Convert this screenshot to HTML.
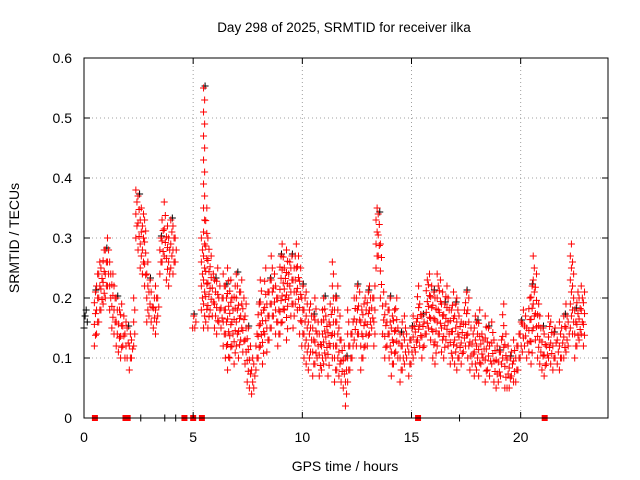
<!DOCTYPE html>
<html><head><meta charset="utf-8"><style>
html,body{margin:0;padding:0;background:#fff;}
svg{display:block;font-family:"Liberation Sans",sans-serif;}
</style></head><body>
<svg id="chart" width="640" height="480" viewBox="0 0 640 480" xmlns="http://www.w3.org/2000/svg">
<text x="344" y="32" font-size="13.5" text-anchor="middle">Day 298 of 2025, SRMTID for receiver ilka</text>
<text x="345" y="471" font-size="14" text-anchor="middle">GPS time / hours</text>
<text x="19" y="238" font-size="14" text-anchor="middle" transform="rotate(-90 19 238)">SRMTID / TECUs</text>
<g id="grid"></g>
<g id="pts-black"></g>
<g id="pts-red"></g>
<g id="axes"></g>
</svg>
<script>
const xTicks=[0,5,10,15,20];
const yTicks=[0,0.1,0.2,0.3,0.4,0.5,0.6];
const yTickLabels=["0","0.1","0.2","0.3","0.4","0.5","0.6"];
const tStart=0.5, tStep=0.1;
const hiVals=[.21,.24,.26,.25,.28,
.28,.30,.26,.24,.22,.20,.18,.19,.17,.16,
.15,.14,.13,.20,.38,.37,.35,.34,.33,.26,
.23,.21,.20,.22,.20,.30,.33,.36,.32,.30,
.33,.32,.30,null,null,null,null,null,null,null,
.17,.16,null,null,.30,.55,.35,.30,.27,.24,
.23,.25,.22,.20,.24,.22,.25,.23,.20,.22,
.24,.21,.23,.20,.19,.15,.12,.10,.09,.14,
.19,.23,.18,.25,.21,.23,.27,.24,.22,.20,
.27,.29,.25,.28,.26,.27,.25,.29,.27,.25,
.22,.20,.21,.18,.19,.17,.20,.16,.14,.18,
.20,.17,.16,.19,.26,.20,.22,.17,.13,.12,
.10,.18,.14,.16,.20,.22,.21,.18,.19,.20,
.21,.22,.20,.22,.35,.34,.29,.21,.19,.18,
.20,.17,.18,.20,.15,.14,.16,.17,.14,.13,
.15,.17,.16,.22,.19,.17,.16,.23,.24,.22,
.21,.20,.24,.23,.21,.19,.22,.20,.18,.21,
.19,.20,.17,.16,.18,.21,.20,.15,.14,.17,
.16,.18,.14,.13,.17,.15,.12,.16,.13,.12,
.11,.13,.19,.14,.12,.10,.11,.13,.12,.14,
.16,.18,.17,.15,.20,.22,.27,.24,.19,.17,
.15,.14,.12,.17,.16,.14,.15,.13,.16,.15,
.17,.19,.16,.29,.26,.18,.21,.20,.22,.21];
const loVals=[.12,.14,.16,.18,.19,
.20,.22,.18,.15,.14,.12,.11,.10,.12,.10,
.10,.08,.10,.12,.30,.28,.25,.24,.22,.16,
.17,.16,.15,.14,.17,.24,.26,.27,.23,.22,
.25,.24,.26,null,null,null,null,null,null,null,
.15,.15,null,null,.18,.15,.16,.15,.18,.17,
.15,.14,.16,.15,.12,.10,.08,.10,.12,.09,
.12,.10,.13,.11,.09,.06,.05,.04,.05,.08,
.10,.12,.09,.14,.11,.13,.15,.17,.14,.12,
.14,.16,.18,.13,.20,.17,.15,.19,.18,.14,
.12,.10,.09,.08,.11,.07,.09,.10,.07,.08,
.09,.10,.07,.12,.10,.06,.08,.07,.06,.05,
.02,.06,.08,.10,.13,.12,.14,.08,.10,.12,
.12,.14,.15,.12,.25,.27,.20,.14,.10,.12,
.10,.07,.09,.11,.10,.06,.08,.09,.10,.07,
.09,.10,.11,.13,.12,.10,.12,.14,.15,.13,
.10,.09,.12,.14,.11,.10,.13,.12,.09,.10,
.09,.08,.10,.09,.11,.12,.10,.08,.09,.07,
.08,.07,.09,.10,.06,.08,.07,.09,.06,.05,
.06,.07,.10,.05,.05,.05,.07,.06,.06,.08,
.10,.11,.12,.10,.11,.09,.15,.13,.10,.09,
.08,.07,.09,.10,.09,.08,.10,.09,.08,.10,
.10,.11,.12,.15,.14,.10,.12,.13,.14,.12];
const blackT=[0.0,0.05,0.1,0.15];
const blackV=[0.15,0.17,0.18,0.16];
const zeroRedT=[0.5,1.9,2.0,4.6,5.0,5.4,15.3,21.1];
const zeroBlackT=[2.6,3.7,4.2,17.2];

const L=84,R=608,T=58,B=418;
const xS=h=>L+h*(R-L)/24;
const yS=v=>B-v*(B-T)/0.6;
const NS="http://www.w3.org/2000/svg";
function mk(tag,attrs,parent){const e=document.createElementNS(NS,tag);for(const k in attrs)e.setAttribute(k,attrs[k]);parent.appendChild(e);return e;}
const grid=document.getElementById('grid'),axes=document.getElementById('axes');
const red=document.getElementById('pts-red'),blk=document.getElementById('pts-black');
yTicks.forEach((v,i)=>{
 const y=yS(v);
 if(v>0&&v<0.6){const g=mk('line',{x1:L,x2:R,y1:y,y2:y,stroke:'#a0a0a0','stroke-width':1,'stroke-dasharray':'1,3'},grid);
 
 }
 const t=mk('text',{x:L-12,y:y+5,'font-size':14,'text-anchor':'end'},axes);t.textContent=yTickLabels[i];
 
 
 mk('line',{x1:L,x2:L+6,y1:y,y2:y,stroke:'#000'},axes);
 mk('line',{x1:R,x2:R-6,y1:y,y2:y,stroke:'#000'},axes);
});
xTicks.forEach(h=>{
 const x=xS(h);
 if(h>0){const g=mk('line',{x1:x,x2:x,y1:T,y2:B,stroke:'#a0a0a0','stroke-width':1,'stroke-dasharray':'1,3'},grid);
 
 }
 const t=mk('text',{x:x,y:B+24,'font-size':14,'text-anchor':'middle'},axes);t.textContent=String(h);
 
 
 mk('line',{x1:x,x2:x,y1:B,y2:B-6,stroke:'#000'},axes);
 mk('line',{x1:x,x2:x,y1:T,y2:T+6,stroke:'#000'},axes);
});
const frame=mk('rect',{x:L,y:T,width:R-L,height:B-T,fill:'none',stroke:'#000','stroke-width':1},axes);


function plus(x,y,col,parent){
 const p=mk('path',{d:`M${x-3.5},${y}h7M${x},${y-3.5}v7`,stroke:col,'stroke-width':1,fill:'none'},parent);
 
 
}
blackT.forEach((t,i)=>plus(xS(t),yS(blackV[i]),'#000',blk));
zeroBlackT.forEach(t=>plus(xS(t),yS(0),'#000',blk));
hiVals.forEach((hi,i)=>{
 const lo=loVals[i];if(hi==null||lo==null)return;
 const t=tStart+i*tStep;
 if(i%5===0)plus(xS(t)+1,yS(hi)-2,'#000',blk);
 const n=Math.max(1,Math.round((hi-lo)/0.02));
 for(let k=0;k<=n;k++){
  const v=lo+(hi-lo)*k/n;
  const dx=(k%2?0.5:-0.5)*tStep*0.5;
  plus(xS(t+dx),yS(v),'#ff0000',red);
 }
});
zeroRedT.forEach(t=>{const r=mk('rect',{x:xS(t)-3,y:yS(0)-3,width:6,height:6,fill:'#ff0000'},red);
 
 });
</script>
</body></html>
